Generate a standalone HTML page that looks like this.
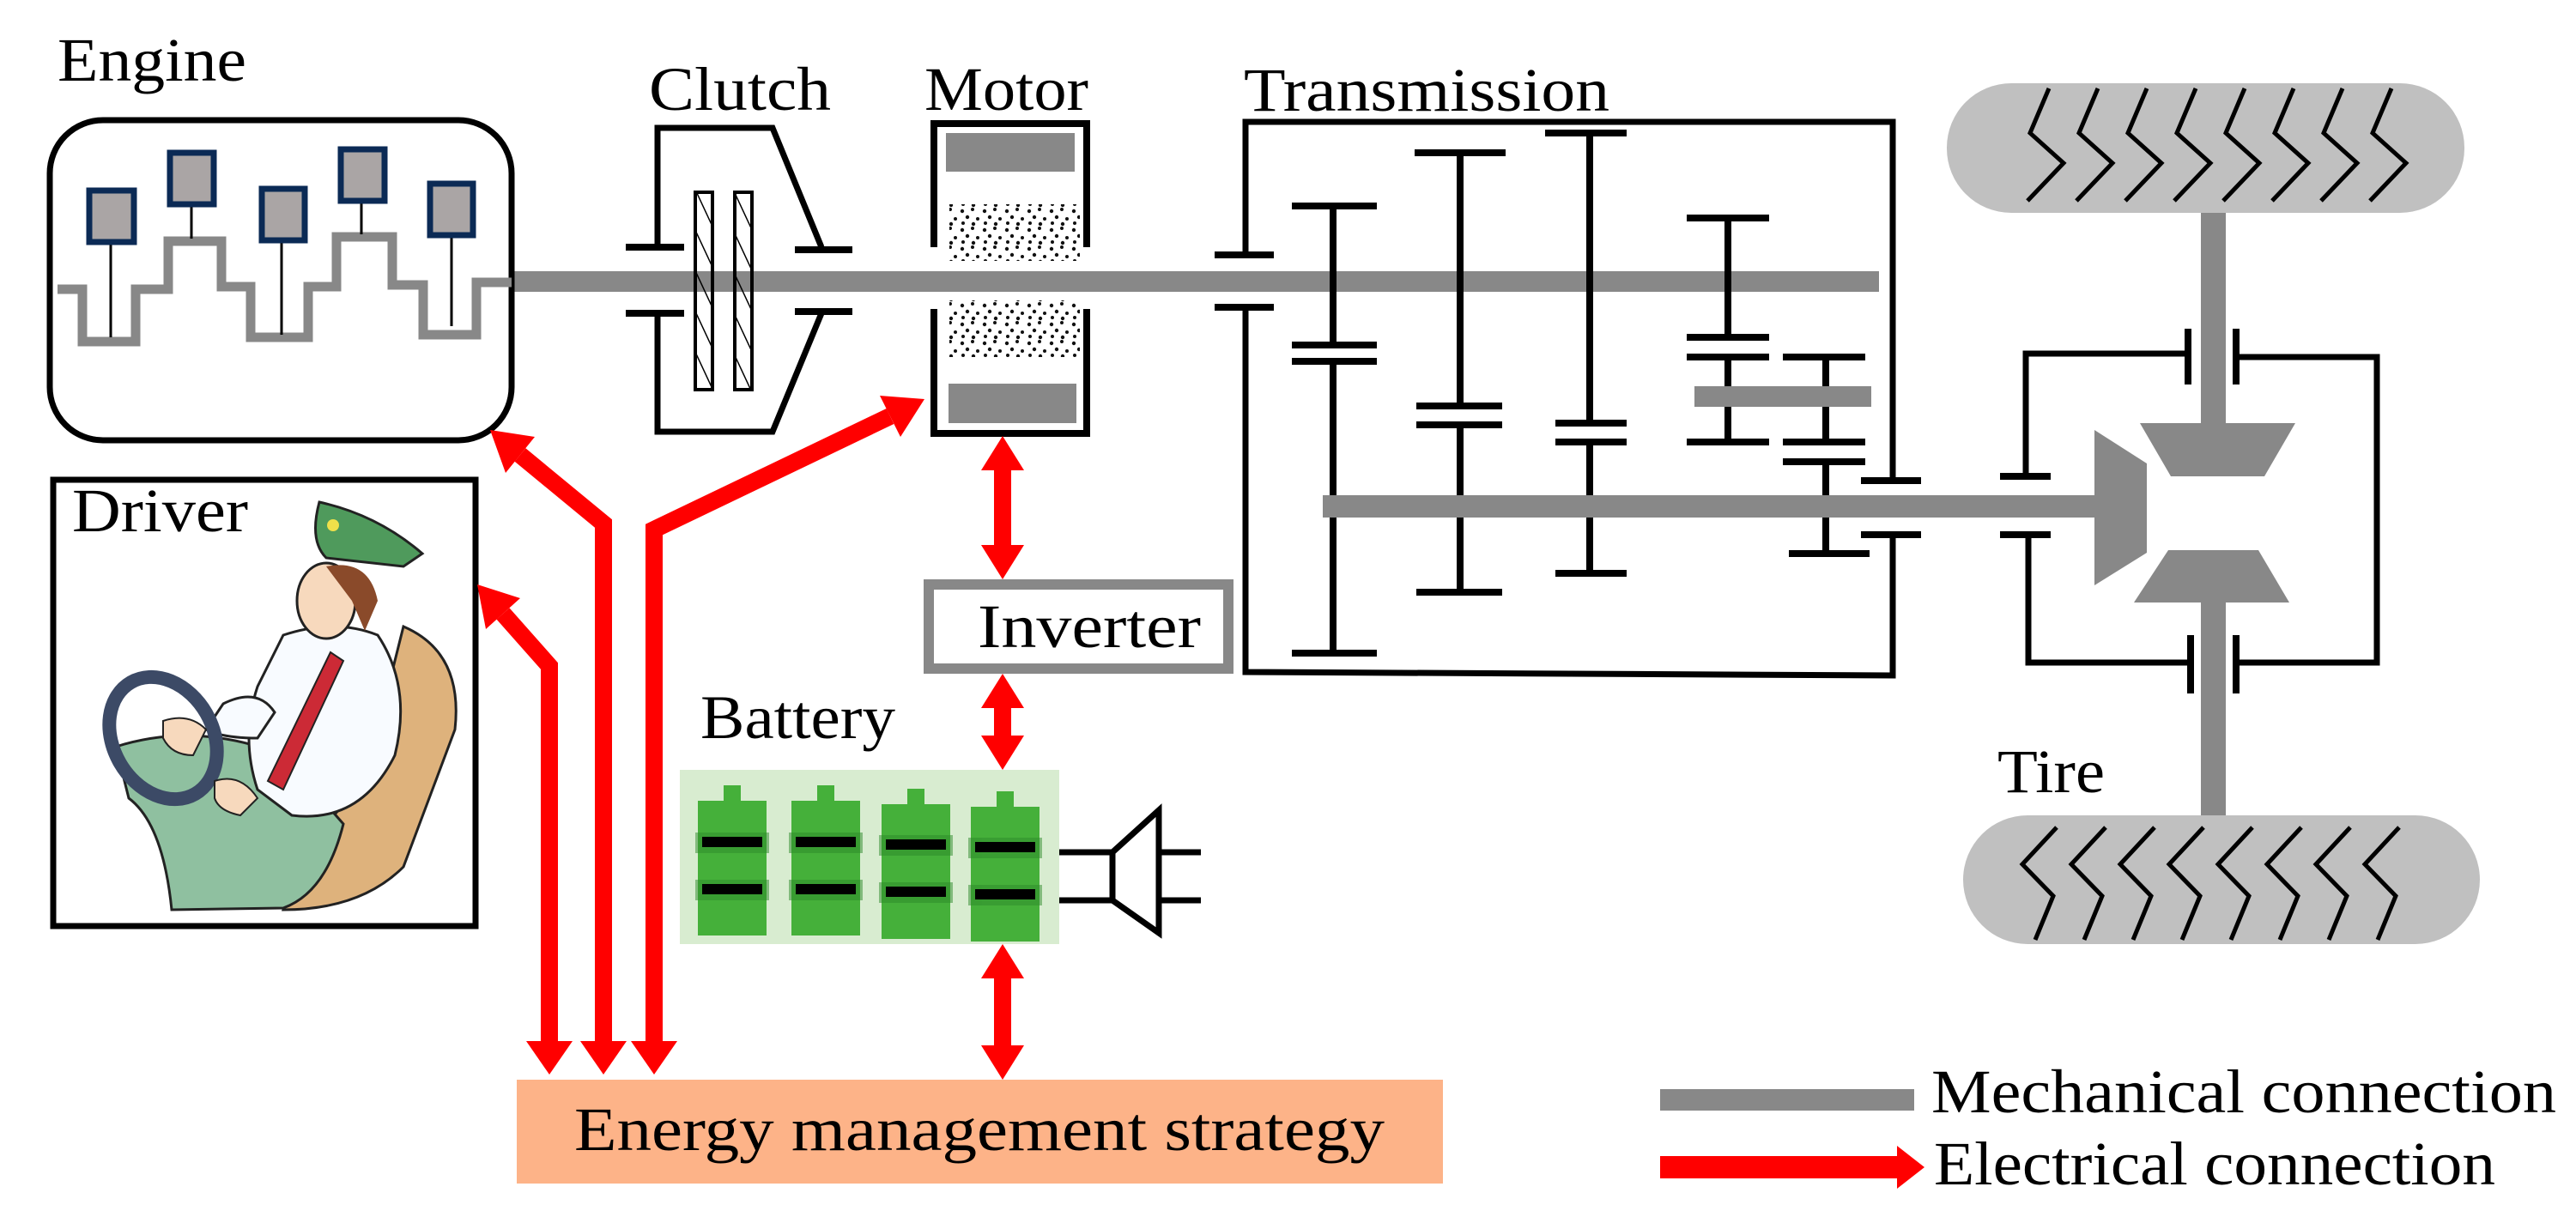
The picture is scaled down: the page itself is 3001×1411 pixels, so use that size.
<!DOCTYPE html>
<html><head><meta charset="utf-8"><style>
html,body{margin:0;padding:0;background:#fff;}
svg{display:block;}
text{font-family:"Liberation Serif",serif;font-size:72px;fill:#000;}
</style></head><body>
<svg width="3001" height="1411" viewBox="0 0 3001 1411" xmlns="http://www.w3.org/2000/svg">
<defs>
<pattern id="hatch" width="20" height="20" patternUnits="userSpaceOnUse" patternTransform="rotate(-25)">
<line x1="0" y1="0" x2="0" y2="20" stroke="#000" stroke-width="3"/>
</pattern>
<pattern id="dots" width="26" height="22" patternUnits="userSpaceOnUse">
<circle cx="3" cy="4" r="2.2" fill="#111"/><circle cx="15" cy="2" r="2" fill="#111"/><circle cx="9" cy="11" r="2.2" fill="#111"/>
<circle cx="21" cy="13" r="2" fill="#111"/><circle cx="4" cy="18" r="2" fill="#111"/><circle cx="16" cy="19" r="2.2" fill="#111"/>
</pattern>
</defs>

<!-- Labels -->
<text x="67" y="94" textLength="220" lengthAdjust="spacingAndGlyphs">Engine</text>
<text x="756" y="128" textLength="212" lengthAdjust="spacingAndGlyphs">Clutch</text>
<text x="1077" y="128" textLength="191" lengthAdjust="spacingAndGlyphs">Motor</text>
<text x="1449" y="129" textLength="426" lengthAdjust="spacingAndGlyphs">Transmission</text>
<text x="84" y="619" textLength="205" lengthAdjust="spacingAndGlyphs">Driver</text>
<text x="816" y="860" textLength="227" lengthAdjust="spacingAndGlyphs">Battery</text>
<text x="2327" y="923" textLength="125" lengthAdjust="spacingAndGlyphs">Tire</text>

<!-- Main shaft -->
<rect x="596" y="316" width="1593" height="24" fill="#888"/>

<!-- Engine -->
<rect x="58" y="140" width="538" height="373" rx="62" fill="none" stroke="#000" stroke-width="7"/>
<polyline points="67,337 96,337 96,398 158,398 158,337 196,337 196,281 258,281 258,334 292,334 292,393 359,393 359,334 392,334 392,276 457,276 457,332 493,332 493,390 555,390 555,329 596,329" fill="none" stroke="#888" stroke-width="11"/>
<g stroke="#000" stroke-width="3">
<line x1="129" y1="284" x2="129" y2="393"/><line x1="223" y1="240" x2="223" y2="278"/>
<line x1="328" y1="282" x2="328" y2="390"/><line x1="421" y1="236" x2="421" y2="273"/>
<line x1="526" y1="277" x2="526" y2="380"/>
</g>
<g fill="#aaa5a5" stroke="#0b2a55" stroke-width="7">
<rect x="104" y="222" width="52" height="60"/><rect x="198" y="178" width="51" height="60"/>
<rect x="305" y="220" width="50" height="60"/><rect x="397" y="174" width="51" height="60"/>
<rect x="501" y="214" width="50" height="60"/>
</g>

<!-- Clutch -->
<g fill="none" stroke="#000" stroke-width="7">
<polyline points="766,288 766,149 900,149 957,288"/>
<polyline points="766,365 766,503 900,503 957,365"/>
</g>
<g stroke="#000" stroke-width="8">
<line x1="729" y1="288" x2="797" y2="288"/><line x1="926" y1="291" x2="993" y2="291"/>
<line x1="729" y1="365" x2="797" y2="365"/><line x1="926" y1="363" x2="993" y2="363"/>
</g>
<rect x="810" y="224" width="20" height="230" fill="url(#hatch)" stroke="#000" stroke-width="4"/>
<rect x="856" y="224" width="20" height="230" fill="url(#hatch)" stroke="#000" stroke-width="4"/>

<!-- Motor -->
<g fill="none" stroke="#000" stroke-width="8">
<polyline points="1088,288 1088,144 1266,144 1266,288"/>
<polyline points="1088,360 1088,505 1266,505 1266,360"/>
</g>
<rect x="1102" y="155" width="150" height="45" fill="#888"/>
<rect x="1105" y="447" width="149" height="46" fill="#888"/>
<rect x="1106" y="238" width="152" height="66" fill="url(#dots)"/>
<rect x="1106" y="350" width="152" height="66" fill="url(#dots)"/>

<!-- Transmission -->
<g fill="none" stroke="#000" stroke-width="7">
<polyline points="1451,297 1451,142 2205,142 2205,560"/>
<polyline points="1451,358 1451,783 2205,787 2205,623"/>
</g>
<g stroke="#000" stroke-width="8">
<line x1="1415" y1="297" x2="1484" y2="297"/><line x1="1415" y1="358" x2="1484" y2="358"/>
<line x1="2168" y1="560" x2="2238" y2="560"/><line x1="2168" y1="623" x2="2238" y2="623"/>
<line x1="1553" y1="240" x2="1553" y2="402"/><line x1="1553" y1="421" x2="1553" y2="761"/>
<line x1="1505" y1="240" x2="1604" y2="240"/><line x1="1505" y1="402" x2="1604" y2="402"/>
<line x1="1505" y1="421" x2="1604" y2="421"/><line x1="1505" y1="761" x2="1604" y2="761"/>
<line x1="1701" y1="178" x2="1701" y2="473"/><line x1="1701" y1="495" x2="1701" y2="690"/>
<line x1="1648" y1="178" x2="1754" y2="178"/><line x1="1650" y1="473" x2="1750" y2="473"/>
<line x1="1650" y1="495" x2="1750" y2="495"/><line x1="1650" y1="690" x2="1750" y2="690"/>
<line x1="1852" y1="155" x2="1852" y2="493"/><line x1="1852" y1="515" x2="1852" y2="668"/>
<line x1="1800" y1="155" x2="1895" y2="155"/><line x1="1812" y1="493" x2="1895" y2="493"/>
<line x1="1812" y1="515" x2="1895" y2="515"/><line x1="1812" y1="668" x2="1895" y2="668"/>
<line x1="2013" y1="254" x2="2013" y2="393"/><line x1="2013" y1="416" x2="2013" y2="515"/>
<line x1="1965" y1="254" x2="2061" y2="254"/><line x1="1965" y1="393" x2="2061" y2="393"/>
<line x1="1965" y1="416" x2="2061" y2="416"/><line x1="1965" y1="515" x2="2061" y2="515"/>
<line x1="2127" y1="416" x2="2127" y2="515"/><line x1="2127" y1="538" x2="2127" y2="645"/>
<line x1="2077" y1="416" x2="2173" y2="416"/><line x1="2077" y1="515" x2="2173" y2="515"/>
<line x1="2077" y1="538" x2="2173" y2="538"/><line x1="2084" y1="645" x2="2178" y2="645"/>
</g>
<rect x="1974" y="450" width="206" height="24" fill="#888"/>
<rect x="1541" y="577" width="901" height="26" fill="#888"/>

<!-- Differential -->
<g fill="none" stroke="#000" stroke-width="7">
<polyline points="2360,555 2360,412 2549,412"/>
<polyline points="2605,416 2769,416 2769,772 2605,772"/>
<polyline points="2363,623 2363,772 2552,772"/>
</g>
<g stroke="#000" stroke-width="8">
<line x1="2330" y1="555" x2="2389" y2="555"/><line x1="2330" y1="623" x2="2389" y2="623"/>
<line x1="2549" y1="383" x2="2549" y2="448"/><line x1="2605" y1="383" x2="2605" y2="448"/>
<line x1="2552" y1="740" x2="2552" y2="808"/><line x1="2605" y1="740" x2="2605" y2="808"/>
</g>
<rect x="2564" y="246" width="29" height="250" fill="#888"/>
<rect x="2564" y="700" width="29" height="252" fill="#888"/>
<polygon points="2440,501 2501,540 2501,644 2440,682" fill="#888"/>
<polygon points="2493,493 2674,493 2638,555 2529,555" fill="#888"/>
<polygon points="2526,641 2631,641 2667,702 2486,702" fill="#888"/>

<!-- Tires -->
<rect x="2268" y="97" width="603" height="151" rx="75" fill="#c0c0c0"/>
<rect x="2287" y="950" width="602" height="150" rx="75" fill="#c0c0c0"/>
<g fill="none" stroke="#000" stroke-width="5">
<polyline points="2387,103 2365,155 2404,190 2362,234"/>
<polyline points="2444,103 2422,155 2461,190 2419,234"/>
<polyline points="2501,103 2479,155 2518,190 2476,234"/>
<polyline points="2558,103 2536,155 2575,190 2533,234"/>
<polyline points="2615,103 2593,155 2632,190 2590,234"/>
<polyline points="2672,103 2650,155 2689,190 2647,234"/>
<polyline points="2729,103 2707,155 2746,190 2704,234"/>
<polyline points="2786,103 2764,155 2803,190 2761,234"/>
<polyline points="2396,964 2356,1007 2392,1044 2371,1095"/>
<polyline points="2453,964 2413,1007 2449,1044 2428,1095"/>
<polyline points="2510,964 2470,1007 2506,1044 2485,1095"/>
<polyline points="2567,964 2527,1007 2563,1044 2542,1095"/>
<polyline points="2624,964 2584,1007 2620,1044 2599,1095"/>
<polyline points="2681,964 2641,1007 2677,1044 2656,1095"/>
<polyline points="2738,964 2698,1007 2734,1044 2713,1095"/>
<polyline points="2795,964 2755,1007 2791,1044 2770,1095"/>
</g>

<!-- Driver -->
<rect x="62" y="559" width="492" height="520" fill="none" stroke="#000" stroke-width="7"/>
<path d="M470,730 Q540,760 530,850 L470,1010 Q420,1060 330,1060 L350,990 Q420,930 440,850 Z" fill="#deb27c" stroke="#222" stroke-width="3"/>
<path d="M135,870 Q230,840 330,880 L400,960 Q380,1040 330,1058 L200,1060 Q190,960 150,930 Z" fill="#8fc0a0" stroke="#222" stroke-width="3"/>
<path d="M330,740 Q390,720 440,740 Q480,800 460,880 Q420,960 340,950 L300,920 Q280,860 300,800 Z" fill="#f8fbff" stroke="#222" stroke-width="3"/>
<path d="M385,760 L400,770 L330,920 L312,910 Z" fill="#cc2a36" stroke="#222" stroke-width="2"/>
<path d="M260,820 Q300,800 320,830 L300,860 Q260,860 240,850 Z" fill="#f8fbff" stroke="#222" stroke-width="3"/>
<ellipse cx="380" cy="700" rx="34" ry="44" fill="#f7d9bd" stroke="#222" stroke-width="3"/>
<path d="M380,660 Q430,650 440,700 L425,735 L410,700 Z" fill="#8a4a2a"/>
<path d="M372,585 Q440,600 492,645 L470,660 L380,650 Q360,630 372,585 Z" fill="#4f9a5c" stroke="#222" stroke-width="3"/>
<circle cx="388" cy="612" r="7" fill="#f0e04a"/>
<ellipse cx="190" cy="860" rx="58" ry="75" fill="none" stroke="#3c4a66" stroke-width="16" transform="rotate(-30 190 860)"/>
<path d="M190,840 Q220,830 240,850 L225,880 Q200,880 190,860 Z" fill="#f7d9bd" stroke="#222" stroke-width="2"/>
<path d="M250,910 Q280,900 300,930 L280,950 Q255,945 250,930 Z" fill="#f7d9bd" stroke="#222" stroke-width="2"/>

<!-- Inverter -->
<rect x="1082" y="681" width="349" height="98" fill="#fff" stroke="#888" stroke-width="12"/>
<text x="1139" y="754" textLength="260" lengthAdjust="spacingAndGlyphs">Inverter</text>

<!-- Battery -->
<rect x="792" y="897" width="442" height="203" fill="#d8ecd0"/>
<g fill="#45b03a">
<rect x="813" y="933" width="80" height="157"/><rect x="843" y="915" width="20" height="20"/>
<rect x="922" y="933" width="80" height="157"/><rect x="952" y="915" width="20" height="20"/>
<rect x="1027" y="937" width="80" height="157"/><rect x="1057" y="919" width="20" height="20"/>
<rect x="1131" y="940" width="80" height="157"/><rect x="1161" y="922" width="20" height="20"/>
</g>
<g fill="#2d8a2a" opacity="0.5">
<rect x="810" y="970" width="86" height="24"/><rect x="810" y="1025" width="86" height="24"/>
<rect x="919" y="970" width="86" height="24"/><rect x="919" y="1025" width="86" height="24"/>
<rect x="1024" y="973" width="86" height="24"/><rect x="1024" y="1028" width="86" height="24"/>
<rect x="1128" y="976" width="86" height="24"/><rect x="1128" y="1031" width="86" height="24"/>
</g>
<g fill="#000">
<rect x="818" y="975" width="70" height="12"/><rect x="818" y="1030" width="70" height="12"/>
<rect x="927" y="975" width="70" height="12"/><rect x="927" y="1030" width="70" height="12"/>
<rect x="1032" y="978" width="70" height="12"/><rect x="1032" y="1033" width="70" height="12"/>
<rect x="1136" y="981" width="70" height="12"/><rect x="1136" y="1036" width="70" height="12"/>
</g>
<g fill="none" stroke="#000" stroke-width="7">
<line x1="1234" y1="993" x2="1296" y2="993"/><line x1="1234" y1="1049" x2="1296" y2="1049"/>
<polygon points="1296,993 1350,944 1350,1087 1296,1049"/>
<line x1="1350" y1="993" x2="1399" y2="993"/><line x1="1350" y1="1049" x2="1399" y2="1049"/>
</g>

<!-- EMS -->
<rect x="602" y="1258" width="1079" height="121" fill="#fdb388"/>
<text x="669" y="1340" textLength="944" lengthAdjust="spacingAndGlyphs">Energy management strategy</text>

<!-- Red arrows -->
<g fill="none" stroke="#f00" stroke-width="20" stroke-linejoin="miter">
<polyline points="640,1218 640,776 586,715"/>
<polyline points="703,1218 703,610 606,530"/>
<polyline points="762,1218 762,617 1037,485"/>
<line x1="1168" y1="545" x2="1168" y2="640"/>
<line x1="1168" y1="822" x2="1168" y2="862"/>
<line x1="1168" y1="1137" x2="1168" y2="1222"/>
</g>
<g fill="#f00">
<polygon points="556,681 606,697 566,733"/>
<polygon points="571,501 623,509 589,551"/>
<polygon points="1077,465 1049,509 1025,461"/>
<polygon points="640,1252 613,1213 667,1213"/>
<polygon points="703,1252 676,1213 730,1213"/>
<polygon points="762,1252 735,1213 789,1213"/>
<polygon points="1168,508 1143,548 1193,548"/><polygon points="1168,675 1143,635 1193,635"/>
<polygon points="1168,785 1143,825 1193,825"/><polygon points="1168,897 1143,857 1193,857"/>
<polygon points="1168,1100 1143,1140 1193,1140"/><polygon points="1168,1258 1143,1218 1193,1218"/>
</g>

<!-- Legend -->
<rect x="1934" y="1269" width="296" height="25" fill="#888"/>
<text x="2250" y="1296" textLength="728" lengthAdjust="spacingAndGlyphs">Mechanical connection</text>
<rect x="1934" y="1347" width="278" height="26" fill="#f00"/>
<polygon points="2210,1335 2242,1360 2210,1385" fill="#f00"/>
<text x="2253" y="1380" textLength="654" lengthAdjust="spacingAndGlyphs">Electrical connection</text>
</svg>
</body></html>
